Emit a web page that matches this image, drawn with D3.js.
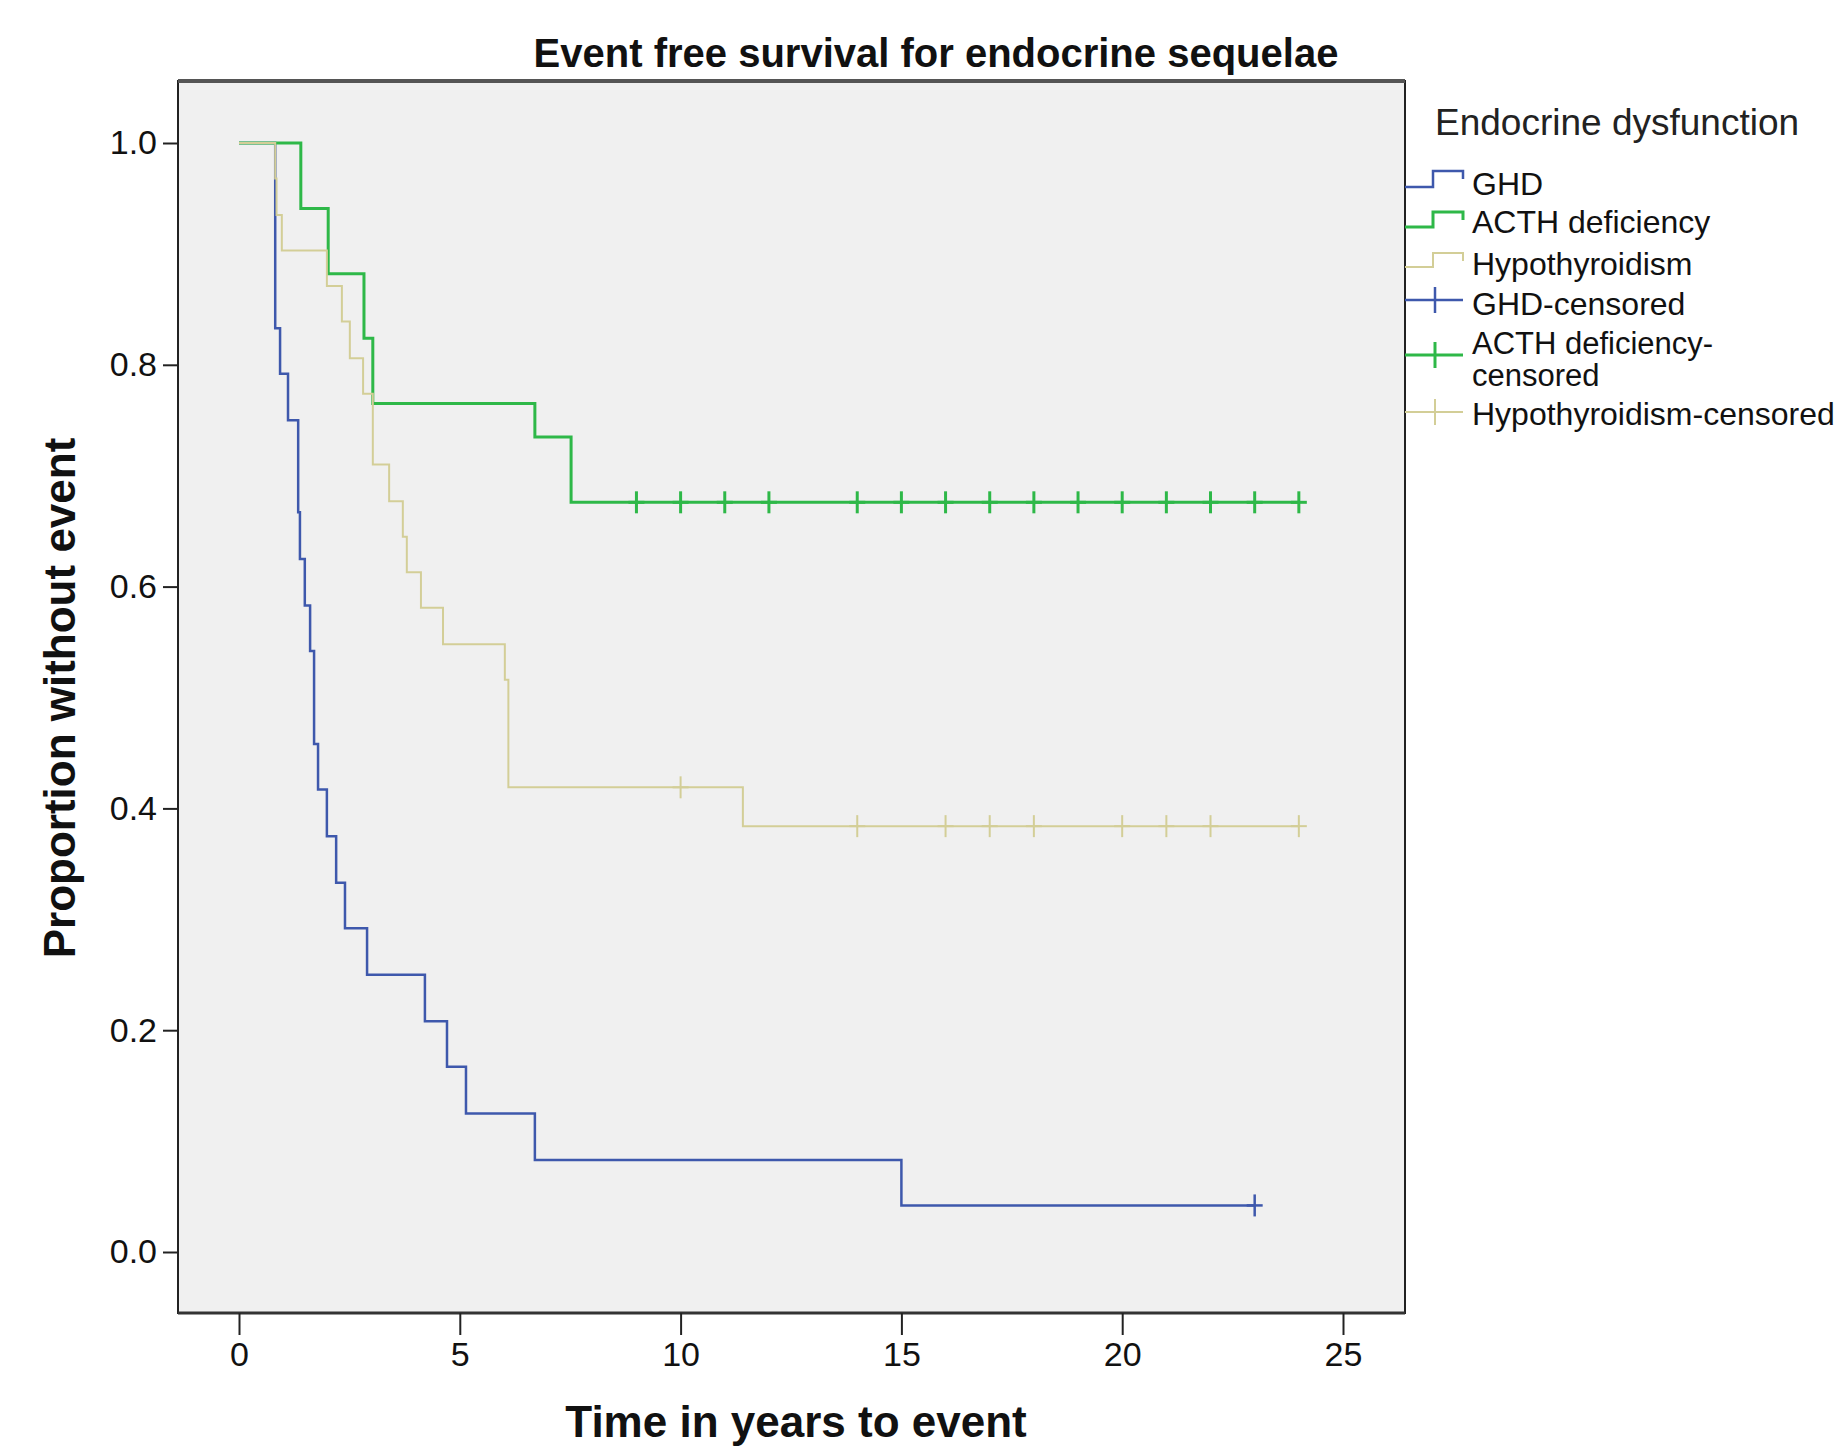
<!DOCTYPE html>
<meta charset="utf-8">
<style>
body {
  margin: 0;
  background: #fff;
}
svg text {
  font-family: "Liberation Sans", Arial, sans-serif;
  fill: #111;
}
.tick line {
  stroke: #222;
  stroke-width: 2px;
}
.tick text {
  font-size: 34px;
}
.axis-title {
  font-weight: bold;
  font-size: 44px;
}
</style>
<body>
<svg width="1839" height="1449"></svg>
<script src="https://d3js.org/d3.v7.min.js"></script>
<script>

// Kaplan-Meier steps: time (years) and proportion after each drop
var ghdTime = [0, 0.82, 0.93, 1.11, 1.34, 1.38, 1.49, 1.61, 1.70, 1.79, 1.99, 2.20, 2.40, 2.90, 4.21, 4.71, 5.14, 6.70, 15.0, 23.0];
var ghdSurv = [1, 0.833, 0.792, 0.750, 0.667, 0.625, 0.583, 0.542, 0.458, 0.417, 0.375, 0.333, 0.292, 0.250, 0.208, 0.167, 0.125, 0.083, 0.042, 0.042];
var ghdCensored = [23];

var acthTime = [0, 1.40, 2.02, 2.83, 3.03, 6.70, 7.52, 24];
var acthSurv = [1, 0.941, 0.882, 0.824, 0.765, 0.735, 0.676, 0.676];
var acthCensored = [9, 10, 11, 12, 14, 15, 16, 17, 18, 19, 20, 21, 22, 23, 24];

var hypoTime = [0, 0.82, 0.85, 0.97, 1.99, 2.33, 2.51, 2.81, 3.03, 3.40, 3.71, 3.80, 4.12, 4.62, 6.02, 6.10, 11.41, 24];
var hypoSurv = [1, 0.968, 0.935, 0.903, 0.871, 0.839, 0.806, 0.774, 0.710, 0.677, 0.645, 0.613, 0.581, 0.548, 0.516, 0.419, 0.384, 0.384];
var hypoCensored = [10, 14, 16, 17, 18, 20, 21, 22, 24];

var groupNames = ["GHD", "ACTH deficiency", "Hypothyroidism"];
var xTicks = [0, 5, 10, 15, 20, 25];
var yTicks = [0, 0.2, 0.4, 0.6, 0.8, 1.0];

var colors = ["#3E58AC", "#2EB848", "#D3CE97"];
var widths = [2.5, 3, 2];

var series = [
  {name: groupNames[0], time: ghdTime, surv: ghdSurv, censored: ghdCensored},
  {name: groupNames[1], time: acthTime, surv: acthSurv, censored: acthCensored},
  {name: groupNames[2], time: hypoTime, surv: hypoSurv, censored: hypoCensored}
];

var svg = d3.select("svg"),
    plot = {left: 178, top: 81, right: 1405, bottom: 1313};

var x = d3.scaleLinear().domain([0, 25]).range([239, 1343]),
    y = d3.scaleLinear().domain([0, 1]).range([1252, 143]);

svg.append("rect")
    .attr("x", plot.left)
    .attr("y", plot.top)
    .attr("width", plot.right - plot.left)
    .attr("height", plot.bottom - plot.top)
    .attr("fill", "#F0F0F0")
    .attr("stroke", "#222")
    .attr("stroke-width", 2);

svg.append("line")
    .attr("x1", plot.left).attr("x2", plot.right)
    .attr("y1", plot.top).attr("y2", plot.top)
    .attr("stroke", "#555")
    .attr("stroke-width", 4);

svg.append("line")
    .attr("x1", plot.left).attr("x2", plot.right)
    .attr("y1", plot.bottom).attr("y2", plot.bottom)
    .attr("stroke", "#333")
    .attr("stroke-width", 3);

svg.append("g")
    .attr("transform", "translate(0," + plot.bottom + ")")
    .call(d3.axisBottom(x).tickValues(xTicks).tickSize(22).tickPadding(7))
    .call(function(g) { g.select(".domain").remove(); });

svg.append("g")
    .attr("transform", "translate(" + plot.left + ",0)")
    .call(d3.axisLeft(y).tickValues(yTicks).tickFormat(d3.format(".1f")).tickSize(15).tickPadding(6))
    .call(function(g) { g.select(".domain").remove(); });

var line = d3.line()
    .x(function(d) { return x(d[0]); })
    .y(function(d) { return y(d[1]); })
    .curve(d3.curveStepAfter);

function survAt(s, t) {
  var i = d3.bisectRight(s.time, t) - 1;
  return s.surv[Math.max(i, 0)];
}

series.forEach(function(s, k) {
  svg.append("path")
      .datum(s.time.map(function(t, i) { return [t, s.surv[i]]; }))
      .attr("fill", "none")
      .attr("stroke", colors[k])
      .attr("stroke-width", widths[k])
      .attr("d", line);
});

series.forEach(function(s, k) {
  var g = svg.append("g")
      .attr("stroke", colors[k])
      .attr("stroke-width", widths[k]);
  s.censored.forEach(function(t) {
    var cx = x(t), cy = y(survAt(s, t));
    g.append("line").attr("x1", cx).attr("x2", cx).attr("y1", cy - 11).attr("y2", cy + 11);
    g.append("line").attr("x1", cx - 8).attr("x2", cx + 8).attr("y1", cy).attr("y2", cy);
  });
});

// titles
svg.append("text")
    .attr("x", 936)
    .attr("y", 67)
    .attr("text-anchor", "middle")
    .style("font-weight", "bold")
    .style("font-size", "40px")
    .text("Event free survival for endocrine sequelae");

svg.append("text")
    .attr("class", "axis-title")
    .attr("x", 796)
    .attr("y", 1437)
    .attr("text-anchor", "middle")
    .text("Time in years to event");

svg.append("text")
    .attr("class", "axis-title")
    .attr("transform", "translate(75,698) rotate(-90)")
    .attr("text-anchor", "middle")
    .text("Proportion without event");

// legend
var leg = svg.append("g");

leg.append("text")
    .attr("x", 1435)
    .attr("y", 135)
    .style("font-size", "37px")
    .style("fill", "#222")
    .text("Endocrine dysfunction");

var stepRows = [{low: 187, high: 171, base: 195}, {low: 227, high: 212, base: 233}, {low: 267, high: 253, base: 275}];
stepRows.forEach(function(r, k) {
  leg.append("path")
      .attr("d", "M1405," + r.low + "H1433V" + r.high + "H1463V" + (r.high + 8))
      .attr("fill", "none")
      .attr("stroke", colors[k])
      .attr("stroke-width", widths[k]);
  leg.append("text")
      .attr("x", 1472)
      .attr("y", r.base)
      .style("font-size", "32px")
      .text(groupNames[k]);
});

var censRows = [
  {mid: 300, lines: [groupNames[0] + "-censored"], base: 315},
  {mid: 355, lines: [groupNames[1] + "-", "censored"], base: 354},
  {mid: 412, lines: [groupNames[2] + "-censored"], base: 425}
];
censRows.forEach(function(r, k) {
  leg.append("line")
      .attr("x1", 1405).attr("x2", 1463)
      .attr("y1", r.mid).attr("y2", r.mid)
      .attr("stroke", colors[k])
      .attr("stroke-width", widths[k]);
  leg.append("line")
      .attr("x1", 1435).attr("x2", 1435)
      .attr("y1", r.mid - 13).attr("y2", r.mid + 13)
      .attr("stroke", colors[k])
      .attr("stroke-width", widths[k]);
  r.lines.forEach(function(txt, i) {
    leg.append("text")
        .attr("x", 1472)
        .attr("y", r.base + i * 32)
        .style("font-size", r.lines.length > 1 ? "31px" : "32px")
        .text(txt);
  });
});

</script>
</body>
